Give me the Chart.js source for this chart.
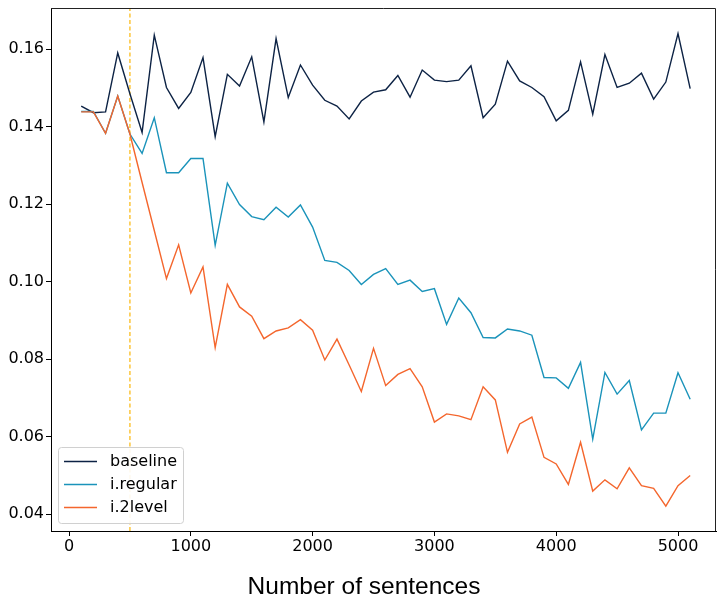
<!DOCTYPE html>
<html>
<head>
<meta charset="utf-8">
<script src="https://cdn.jsdelivr.net/npm/chart.js@4/dist/chart.umd.min.js"></script>
<style>
    html, body { margin: 0; padding: 0; background: #fff; overflow: hidden; }
    #wrap { width: 717px; height: 597px; }
</style>
</head>
<body>
<div id="wrap"><canvas id="chart" width="717" height="597"></canvas></div>
<script>
// Data
var sentences = [100, 200, 300, 400, 500, 600, 700, 800, 900, 1000,
    1100, 1200, 1300, 1400, 1500, 1600, 1700, 1800, 1900, 2000,
    2100, 2200, 2300, 2400, 2500, 2600, 2700, 2800, 2900, 3000,
    3100, 3200, 3300, 3400, 3500, 3600, 3700, 3800, 3900, 4000,
    4100, 4200, 4300, 4400, 4500, 4600, 4700, 4800, 4900, 5000, 5100];

var baseline = [0.1453, 0.1436, 0.1438, 0.1590, 0.1485, 0.1385, 0.1636, 0.1501, 0.1447, 0.1488,
    0.1578, 0.1374, 0.1535, 0.1505, 0.1580, 0.1412, 0.1627, 0.1475, 0.1559, 0.1507,
    0.1468, 0.1453, 0.1420, 0.1466, 0.1489, 0.1495, 0.1532, 0.1476, 0.1546, 0.1520,
    0.1516, 0.1520, 0.1557, 0.1423, 0.1458, 0.1569, 0.1518, 0.1501, 0.1477, 0.1415,
    0.1442, 0.1567, 0.1432, 0.1586, 0.1501, 0.1512, 0.1538, 0.1471, 0.1515, 0.1640, 0.1498];

var iRegular = [0.1439, 0.1439, 0.1383, 0.1479, 0.1381, 0.1331, 0.1423, 0.1281, 0.1281, 0.1318,
    0.1318, 0.1094, 0.1254, 0.1199, 0.1168, 0.1160, 0.1192, 0.1167, 0.1198, 0.1141,
    0.1055, 0.1050, 0.1029, 0.0993, 0.1019, 0.1034, 0.0993, 0.1004, 0.0975, 0.0982,
    0.0890, 0.0958, 0.0920, 0.0856, 0.0855, 0.0878, 0.0873, 0.0862, 0.0753, 0.0752,
    0.0725, 0.0792, 0.0594, 0.0766, 0.0710, 0.0745, 0.0618, 0.0661, 0.0661, 0.0765, 0.0697];

var i2level = [0.1438, 0.1438, 0.1383, 0.1479, 0.1381, 0.1256, 0.1132, 0.1008, 0.1095, 0.0971,
    0.1038, 0.0830, 0.0993, 0.0935, 0.0911, 0.0853, 0.0873, 0.0881, 0.0902, 0.0875,
    0.0798, 0.0852, 0.0785, 0.0717, 0.0828, 0.0732, 0.0761, 0.0776, 0.0729, 0.0638,
    0.0659, 0.0654, 0.0644, 0.0729, 0.0695, 0.0560, 0.0633, 0.0651, 0.0547, 0.0530,
    0.0477, 0.0586, 0.0460, 0.0489, 0.0466, 0.0520, 0.0474, 0.0467, 0.0421, 0.0474, 0.0500];

var seriesNames = ['baseline', 'i.regular', 'i.2level'];
var seriesColors = ['#0c2244', '#1a93ba', '#f4662d'];
var markerX = 500;            // dashed vertical line
var xTicks = [0, 1000, 2000, 3000, 4000, 5000];
var yTicks = [0.04, 0.06, 0.08, 0.10, 0.12, 0.14, 0.16];
var xTitle = 'Number of sentences';

var yMin = 0.0357, yMax = 0.1706;

function toPoints(ys) {
    var pts = [];
    for (var i = 0; i < sentences.length; i++) {
        pts.push({ x: sentences[i], y: ys[i] });
    }
    return pts;
}

var allSeries = [baseline, iRegular, i2level];
var datasets = [];
for (var s = 0; s < allSeries.length; s++) {
    datasets.push({
        label: seriesNames[s],
        data: toPoints(allSeries[s]),
        borderColor: seriesColors[s],
        backgroundColor: seriesColors[s],
        borderWidth: 1.4,
        pointRadius: 0,
        tension: 0,
        order: 3 - s
    });
}
// the dashed marker, kept out of the legend
datasets.push({
    label: '_marker',
    data: [{ x: markerX, y: yMin }, { x: markerX, y: yMax }],
    borderColor: '#fcc02c',
    borderWidth: 1.4,
    borderDash: [4, 2.5],
    pointRadius: 0,
    order: 10
});

// top + right spines, x title and the in-plot legend box
var framePlugin = {
    id: 'frame',
    afterDraw: function (chart) {
        var ctx = chart.ctx;
        var a = chart.chartArea;
        ctx.save();
        ctx.strokeStyle = '#222';
        ctx.lineWidth = 1;
        ctx.beginPath();
        ctx.moveTo(a.left, a.top + 0.5);
        ctx.lineTo(a.right - 0.5, a.top + 0.5);
        ctx.lineTo(a.right - 0.5, a.bottom);
        ctx.stroke();

        // axis title, centred like the reference
        ctx.fillStyle = '#000';
        ctx.font = '24.5px "Liberation Sans"';
        ctx.textAlign = 'center';
        ctx.textBaseline = 'alphabetic';
        ctx.fillText(xTitle, 364, 594);

        // legend
        var bx = 58.5, by = 447.5, bw = 125, bh = 76;
        ctx.fillStyle = 'rgba(255,255,255,0.92)';
        ctx.strokeStyle = '#d0d0d0';
        ctx.beginPath();
        ctx.roundRect(bx, by, bw, bh, 3);
        ctx.fill();
        ctx.stroke();

        ctx.font = '16px "DejaVu Sans"';
        ctx.textBaseline = 'middle';
        ctx.textAlign = 'left';
        var items = chart.data.datasets.filter(function (d) { return d.label.charAt(0) !== '_'; });
        for (var i = 0; i < items.length; i++) {
            var ly = 461.5 + i * 23;
            ctx.strokeStyle = items[i].borderColor;
            ctx.lineWidth = 1.4;
            ctx.beginPath();
            ctx.moveTo(64, ly);
            ctx.lineTo(97, ly);
            ctx.stroke();
            ctx.fillStyle = '#000';
            ctx.fillText(items[i].label, 110, ly);
        }
        ctx.restore();
    }
};

new Chart('chart', {
    type: 'line',
    data: { datasets: datasets },
    plugins: [framePlugin],
    options: {
        responsive: false,
        animation: false,
        layout: { padding: { top: 8, right: 1, left: 0, bottom: 0 } },
        plugins: {
            legend: { display: false },
            tooltip: { enabled: false }
        },
        scales: {
            x: {
                type: 'linear',
                min: -148,
                max: 5312,
                afterFit: function (scale) {
                    scale.height = 66;
                    scale.paddingLeft = 0;
                    scale.paddingRight = 0;
                },
                afterBuildTicks: function (scale) {
                    scale.ticks = xTicks.map(function (v) { return { value: v }; });
                },
                ticks: {
                    color: '#000',
                    font: { family: 'DejaVu Sans', size: 16 },
                    padding: 1,
                    maxRotation: 0,
                    callback: function (v) { return String(v); }
                },
                grid: { drawOnChartArea: false, drawTicks: true, tickLength: 5, color: '#000' },
                border: { display: true, color: '#000', width: 1 }
            },
            y: {
                type: 'linear',
                min: yMin,
                max: yMax,
                afterFit: function (scale) {
                    scale.width = 51;
                    scale.paddingTop = 0;
                    scale.paddingBottom = 0;
                },
                afterBuildTicks: function (scale) {
                    scale.ticks = yTicks.map(function (v) { return { value: v }; });
                },
                ticks: {
                    color: '#000',
                    font: { family: 'DejaVu Sans', size: 16 },
                    padding: 2,
                    callback: function (v) { return v.toFixed(2); }
                },
                grid: { drawOnChartArea: false, drawTicks: true, tickLength: 5, color: '#000' },
                border: { display: true, color: '#000', width: 1 }
            }
        }
    }
});
</script>
</body>
</html>
